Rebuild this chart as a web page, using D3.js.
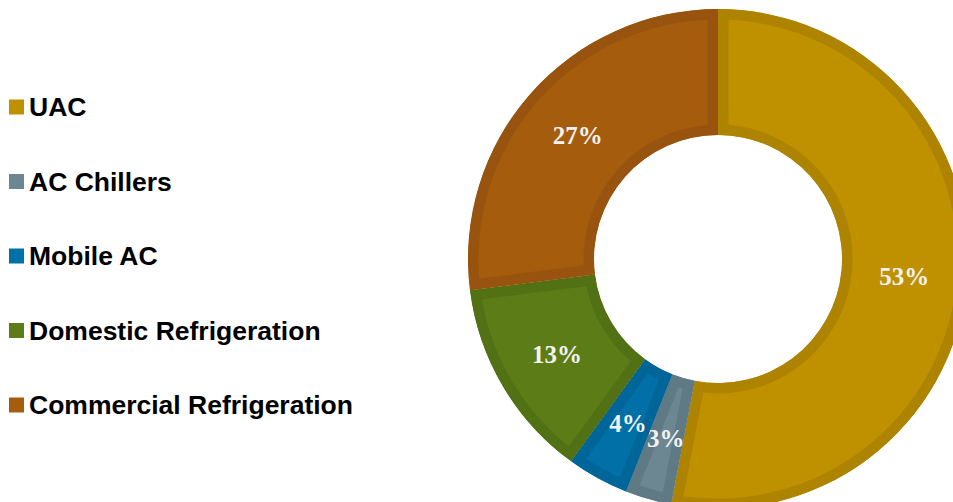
<!DOCTYPE html>
<html>
<head>
<meta charset="utf-8">
<script src="https://cdn.jsdelivr.net/npm/d3@7/dist/d3.min.js"></script>
<style>
  html, body { margin: 0; padding: 0; background: #ffffff; }
  svg { display: block; }
</style>
</head>
<body>
<svg id="chart" width="953" height="502"></svg>
<script>
// Refrigerant demand share by sector
const categories = ["UAC", "AC Chillers", "Mobile AC", "Domestic Refrigeration", "Commercial Refrigeration"];
const shares = [53, 3, 4, 13, 27];
const fills = ["#BF9000", "#6C8792", "#0070A6", "#5B7C16", "#A65C0D"];
const edges = ["#AD8300", "#5F7A85", "#006598", "#527014", "#98540E"];

const svg = d3.select("#chart");
const cx = 718, cy = 259, outerR = 250, innerR = 124;

const pie = d3.pie().sort(null).value(d => d.value);
const arcs = pie(categories.map((c, i) => ({ name: c, value: shares[i], i })));
const arc = d3.arc().innerRadius(innerR).outerRadius(outerR);

const g = svg.append("g").attr("transform", `translate(${cx},${cy})`);
const defs = svg.append("defs");

arcs.forEach((a, k) => {
  defs.append("clipPath").attr("id", "clip" + k)
    .append("path").attr("d", arc(a));
});

// Each slice: flat fill with a darker inset border (stroke clipped to the slice)
const slices = g.selectAll("g.slice").data(arcs).join("g").attr("class", "slice");
slices.append("path")
  .attr("d", arc)
  .attr("fill", d => fills[d.data.i])
  .attr("stroke", d => edges[d.data.i])
  .attr("stroke-width", 21)
  .attr("stroke-linejoin", "miter")
  .attr("clip-path", (d, k) => `url(#clip${k})`);

// Percentage labels at slice centroids
slices.append("text")
  .attr("transform", d => `translate(${arc.centroid(d)})`)
  .attr("text-anchor", "middle")
  .attr("dy", "0.35em")
  .attr("fill", "#F2F2F2")
  .style("font-family", "'Liberation Serif', 'DejaVu Serif', serif")
  .style("font-weight", "bold")
  .style("font-size", "25px")
  .text(d => d.data.value + "%");

// Legend
const legendY = d3.scalePoint().domain(categories).range([107, 405]);
const legend = svg.append("g").selectAll("g").data(categories).join("g")
  .attr("transform", d => `translate(9,${legendY(d)})`);
legend.append("rect")
  .attr("x", 0).attr("y", -7.5).attr("width", 15).attr("height", 15)
  .attr("fill", (d, i) => fills[i]);
legend.append("text")
  .attr("x", 20).attr("y", 9)
  .attr("fill", "#000")
  .style("font-family", "'Liberation Sans', Arial, sans-serif")
  .style("font-weight", "bold")
  .style("font-size", "26.5px")
  .text(d => d);
</script>
</body>
</html>
